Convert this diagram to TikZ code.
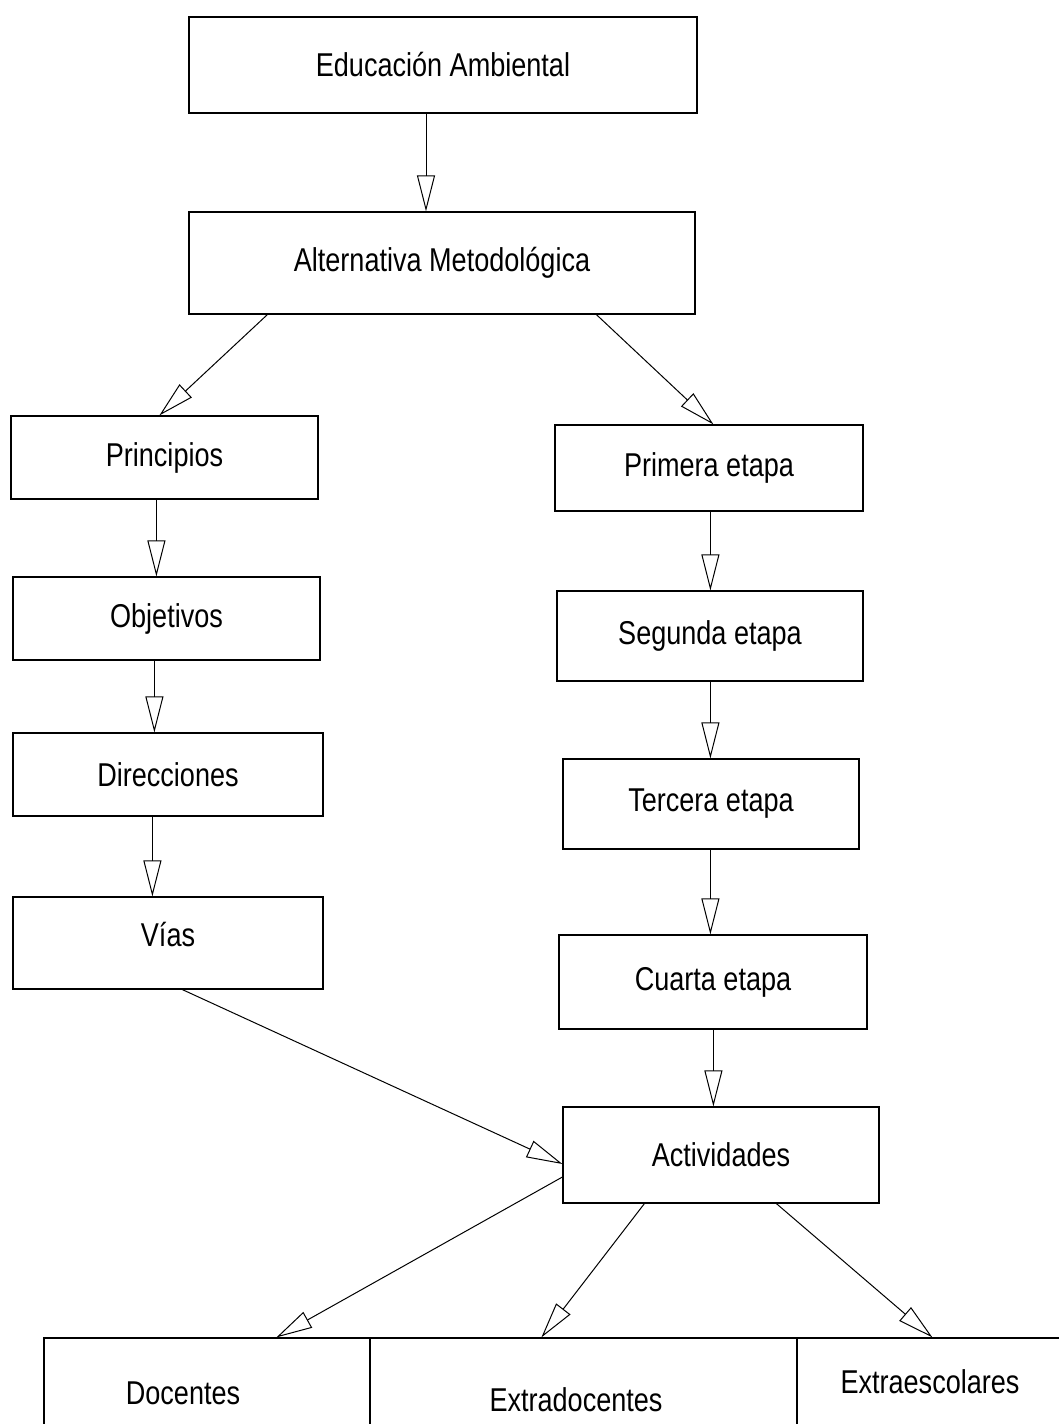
\documentclass[tikz,border=0pt]{standalone}
\usepackage{fontspec}
\setmainfont{Liberation Sans}[FakeStretch=0.82]
\usetikzlibrary{arrows.meta,calc}

\begin{document}
\begin{tikzpicture}[x=0.5pt, y=-0.5pt,
box/.style={draw, line width=0.6pt, inner sep=0pt, font=\fontsize{16.5}{20}\selectfont},
cell/.style={draw, line width=0.6pt, inner sep=0pt},
txt/.style={inner sep=0pt, font=\fontsize{16.5}{20}\selectfont},
arr/.style={-{Triangle[open, length=18pt, width=9pt]}, line width=0.5pt}]
    \useasboundingbox (0,0) rectangle (1059,1424);
    \clip (0,0) rectangle (1059,1424);
    % Nodes
    \node (edu) at (443,65) [box, minimum width=254pt, minimum height=48pt] {Educación Ambiental};
    \node (alt) at (442,263) [box, minimum width=253pt, minimum height=51pt] {Alternativa Metodológica};
    \node (pri) at (164.5,457.5) [box, minimum width=153.5pt, minimum height=41.5pt] {Principios};
    \node (obj) at (166.5,618.5) [box, minimum width=153.5pt, minimum height=41.5pt] {Objetivos};
    \node (dir) at (168,774.5) [box, minimum width=155pt, minimum height=41.5pt] {Direcciones};
    \node (vias) at (168,943) [box, minimum width=155pt, minimum height=46pt, text depth=9pt] {Vías};
    \node (et1) at (709,468) [box, minimum width=154pt, minimum height=43pt] {Primera etapa};
    \node (et2) at (710,636) [box, minimum width=153pt, minimum height=45pt] {Segunda etapa};
    \node (et3) at (711,804) [box, minimum width=148pt, minimum height=45pt] {Tercera etapa};
    \node (et4) at (713,982) [box, minimum width=154pt, minimum height=47pt] {Cuarta etapa};
    \node (act) at (721,1155) [box, minimum width=158pt, minimum height=48pt] {Actividades};
    % bottom row, cut by the page edge
    \node (docbox) at (207,1404) [cell, minimum width=163pt, minimum height=66pt] {};
    \node (extdbox) at (583.5,1404) [cell, minimum width=213.5pt, minimum height=66pt] {};
    \node (extrbox) at (933.5,1404) [cell, minimum width=136.5pt, minimum height=66pt] {};
    \node (doc) at (183,1393) [txt] {Docentes};
    \node (extd) at (576,1400) [txt] {Extradocentes};
    \node (extr) at (930,1382) [txt] {Extraescolares};

    % Arrows
    \draw[arr] ($(edu.south)+(-17,0)$) -- ($(alt.north)+(-16,0)$);
    \draw[arr] ($(alt.south west)+(79,0)$) -- ($(pri.north west)+(149,0)$);
    \draw[arr] ($(alt.south west)+(408,0)$) -- ($(et1.north west)+(159,0)$);
    \draw[arr] ($(pri.south west)+(146,0)$) -- ($(obj.north west)+(144,0)$);
    \draw[arr] ($(obj.south west)+(142,0)$) -- ($(dir.north west)+(142,0)$);
    \draw[arr] ($(dir.south west)+(140,0)$) -- ($(vias.north west)+(140,0)$);
    \draw[arr] ($(et1.south west)+(156,0)$) -- ($(et2.north west)+(154,0)$);
    \draw[arr] ($(et2.south west)+(154,0)$) -- ($(et3.north west)+(148,0)$);
    \draw[arr] ($(et3.south west)+(148,0)$) -- ($(et4.north west)+(152,0)$);
    \draw[arr] ($(et4.south west)+(155,0)$) -- ($(act.north west)+(151,0)$);
    \draw[arr] ($(vias.south west)+(170,0)$) -- ($(act.west)+(0,9)$);
    \draw[arr] ($(act.west)+(0,22)$) -- ($(docbox.north west)+(233,0)$);
    \draw[arr] ($(act.south west)+(82,0)$) -- ($(extdbox.north west)+(172,0)$);
    \draw[arr] ($(act.south west)+(214,0)$) -- ($(extrbox.north west)+(136,0)$);
\end{tikzpicture}
\end{document}
